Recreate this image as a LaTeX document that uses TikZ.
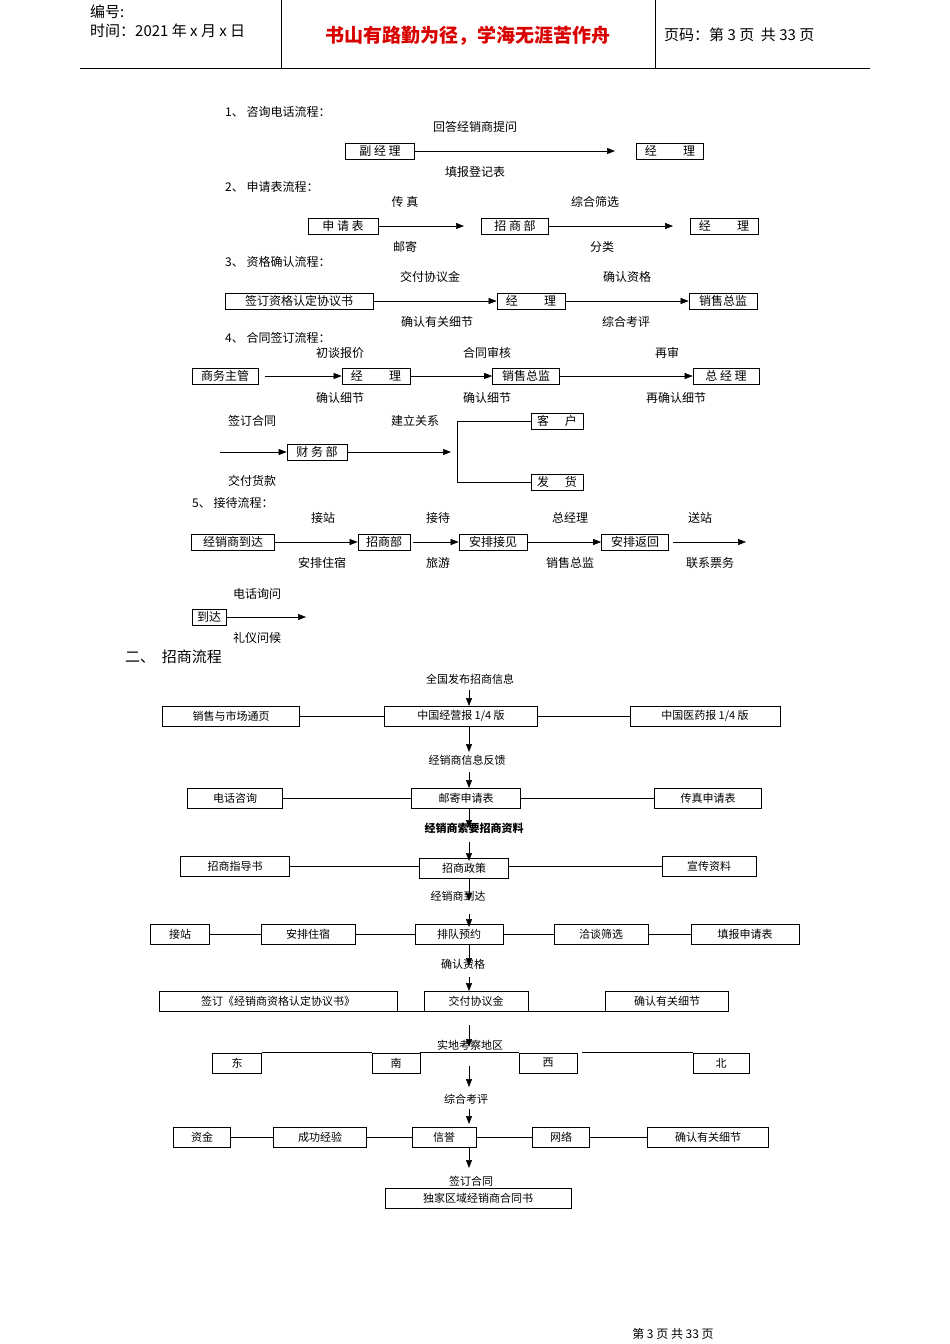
\documentclass[tikz,border=0pt]{standalone}
\usepackage{fontspec}
\setmainfont{Noto Sans CJK SC}
\usetikzlibrary{arrows.meta}
\begin{document}
\begin{tikzpicture}[x=1pt,y=-1pt,
  lbl/.style={font=\fontsize{12}{13}\selectfont, inner sep=0pt},
  sl/.style={font=\fontsize{11}{12}\selectfont, inner sep=0pt},
  ttl/.style={font=\fontsize{12}{13}\selectfont, inner sep=0pt, anchor=west},
  bx/.style={draw, line width=0.7pt, font=\fontsize{12}{13}\selectfont, inner sep=1pt, minimum height=16},
  bb/.style={draw, line width=0.7pt, font=\fontsize{11}{12}\selectfont, inner sep=1pt, minimum height=20},
  ar/.style={line width=0.6pt, -{Triangle[length=8pt,width=6pt]}},
  ln/.style={line width=0.6pt}]
\useasboundingbox (0,0) rectangle (950,1344);
% header
\draw[line width=0.6pt] (80,68) -- (870,68);
\draw[line width=0.6pt] (281,0) -- (281,68) (655,0) -- (655,68);
\node[anchor=west,font=\fontsize{15}{16}\selectfont,inner sep=0] (h1) at (90,12) {编号:};
\node[anchor=west,font=\fontsize{15}{16}\selectfont,inner sep=0] (h2) at (90,31) {时间：2021 年 x 月 x 日};
\node[font=\bfseries\fontsize{19}{20}\selectfont,text=red!85!black,inner sep=0] (h3) at (468,36) {书山有路勤为径，学海无涯苦作舟};
\node[anchor=west,font=\fontsize{15}{16}\selectfont,inner sep=0] (h4) at (664,35) {页码：第 3 页\ \ 共 33 页};
\node[font=\fontsize{12}{13}\selectfont,inner sep=0] (ft) at (673,1334) {第 3 页 共 33 页};

% 1
\node[ttl] (t1) at (225,112) {1、 咨询电话流程：};
\node[lbl] (l11) at (475,127) {回答经销商提问};
\node[bx,minimum width=69] (a1) at (380,151) {副 经 理};
\node[bx,minimum width=67] (a2) at (670,151) {经\hspace{2.2em}理};
\coordinate (a1e) at (615,151);
\draw[ar] (a1) -- (a1e);
\node[lbl] (l12) at (475,172) {填报登记表};
% 2
\node[ttl] (t2) at (225,187) {2、 申请表流程：};
\node[lbl] (l21) at (405,202) {传 真};
\node[lbl] (l22) at (595,202) {综合筛选};
\node[bx,minimum width=70] (b1) at (343,226) {申 请 表};
\node[bx,minimum width=67] (b2) at (515,226) {招 商 部};
\node[bx,minimum width=68] (b3) at (724,226) {经\hspace{2.2em}理};
\coordinate (b1e) at (464,226); \coordinate (b2e) at (673,226);
\draw[ar] (b1) -- (b1e); \draw[ar] (b2) -- (b2e);
\node[lbl] (l23) at (405,247) {邮寄};
\node[lbl] (l24) at (602,247) {分类};
% 3
\node[ttl] (t3) at (225,262) {3、 资格确认流程：};
\node[lbl] (l31) at (430,277) {交付协议金};
\node[lbl] (l32) at (627,277) {确认资格};
\node[bx,minimum width=148] (c1) at (299,301) {签订资格认定协议书};
\node[bx,minimum width=68] (c2) at (531,301) {经\hspace{2.2em}理};
\node[bx,minimum width=68] (c3) at (723,301) {销售总监};
\draw[ar] (c1) -- (c2); \draw[ar] (c2) -- (c3);
\node[lbl] (l33) at (437,322) {确认有关细节};
\node[lbl] (l34) at (626,322) {综合考评};
% 4
\node[ttl] (t4) at (225,338) {4、 合同签订流程：};
\node[lbl] (l41) at (340,353) {初谈报价};
\node[lbl] (l42) at (487,353) {合同审核};
\node[lbl] (l43) at (667,353) {再审};
\node[bx,minimum width=66] (d1) at (225,376) {商务主管};
\node[bx,minimum width=68] (d2) at (376,376) {经\hspace{2.2em}理};
\node[bx,minimum width=67] (d3) at (526,376) {销售总监};
\node[bx,minimum width=66] (d4) at (726,376) {总 经 理};
\draw[ar] (d1.east) ++(7,0) -- (d2); \draw[ar] (d2) -- (d3); \draw[ar] (d3) -- (d4);
\node[lbl] (l44) at (340,398) {确认细节};
\node[lbl] (l45) at (487,398) {确认细节};
\node[lbl] (l46) at (676,398) {再确认细节};
\node[lbl] (l47) at (252,421) {签订合同};
\node[lbl] (l48) at (415,421) {建立关系};
\coordinate (e0) at (220,452);
\node[bx,minimum width=60] (e1) at (317,452) {财 务 部};
\coordinate (e2) at (451,452);
\draw[ar] (e0) -- (e1); \draw[ar] (e1) -- (e2);
\node[bx,minimum width=52] (e3) at (557,421) {客\hspace{1.3em}户};
\node[bx,minimum width=52] (e4) at (557,482) {发\hspace{1.3em}货};
\draw[ln] (e3.west) -- (457,421) -- (457,482) -- (e4.west);
\node[lbl] (l49) at (252,481) {交付货款};
% 5
\node[ttl] (t5) at (192,503) {5、 接待流程：};
\node[lbl] (l51) at (323,518) {接站};
\node[lbl] (l52) at (438,518) {接待};
\node[lbl] (l53) at (570,518) {总经理};
\node[lbl] (l54) at (700,518) {送站};
\node[bx,minimum width=83] (f1) at (233,542) {经销商到达};
\node[bx,minimum width=52] (f2) at (384,542) {招商部};
\node[bx,minimum width=68] (f3) at (493,542) {安排接见};
\node[bx,minimum width=67] (f4) at (635,542) {安排返回};
\coordinate (f5) at (746,542);
\draw[ar] (f1) -- (f2); \draw[ar] (f2.east) ++(3,0) -- (f3); \draw[ar] (f3) -- (f4); \draw[ar] (f4.east) ++(4,0) -- (f5);
\node[lbl] (l55) at (322,563) {安排住宿};
\node[lbl] (l56) at (438,563) {旅游};
\node[lbl] (l57) at (570,563) {销售总监};
\node[lbl] (l58) at (710,563) {联系票务};
\node[lbl] (l59) at (257,594) {电话询问};
\node[bx,minimum width=34] (g1) at (209,617) {到达};
\coordinate (g2) at (306,617);
\draw[ar] (g1) -- (g2);
\node[lbl] (l5a) at (257,638) {礼仪问候};

% 二
\node[anchor=west,font=\fontsize{15}{16}\selectfont,inner sep=0] (t6) at (125,657) {二、\ \ 招商流程};
\node[sl] (m0) at (470,679) {全国发布招商信息};
\node[bb,minimum width=137] (m1) at (231,716) {销售与市场通页};
\node[bb,minimum width=153] (m2) at (461,716) {中国经营报 1/4 版};
\node[bb,minimum width=150] (m3) at (705,716) {中国医药报 1/4 版};
\draw[ln] (m1) -- (m2) -- (m3);
\draw[ar] (469,690) -- (469,706);
\node[sl] (m4) at (467,760) {经销商信息反馈};
\draw[ar] (469,726) -- (469,752);
\draw[ar] (469,772) -- (469,788);
\node[bb,minimum width=95] (n1) at (235,798) {电话咨询};
\node[bb,minimum width=109] (n2) at (466,798) {邮寄申请表};
\node[bb,minimum width=107] (n3) at (708,798) {传真申请表};
\draw[ln] (n1) -- (n2) -- (n3);
\draw[ar] (469,808) -- (469,828);
\node[sl,font=\bfseries\fontsize{11}{12}\selectfont] (n4) at (474,828) {经销商索要招商资料};
\draw[ar] (469,842) -- (469,861);
\node[bb,minimum width=109] (o1) at (235,866) {招商指导书};
\node[bb,minimum width=89] (o2) at (464,868) {招商政策};
\node[bb,minimum width=94] (o3) at (709,866) {宣传资料};
\draw[ln] (o1.east) -- (o2.west |- o1.east) (o2.east |- o3.west) -- (o3.west);
\draw[ar] (469,878) -- (469,901);
\node[sl] (o4) at (458,896) {经销商到达};
\draw[ar] (469,914) -- (469,927);
\node[bb,minimum width=59] (p1) at (180,934) {接站};
\node[bb,minimum width=94] (p2) at (308,934) {安排住宿};
\node[bb,minimum width=88] (p3) at (459,934) {排队预约};
\node[bb,minimum width=94] (p4) at (601,934) {洽谈筛选};
\node[bb,minimum width=108] (p5) at (745,934) {填报申请表};
\draw[ln] (p1) -- (p2) -- (p3) -- (p4) -- (p5);
\draw[ar] (469,944) -- (469,966);
\node[sl] (p6) at (463,964) {确认资格};
\draw[ar] (469,977) -- (469,991);
\node[bb,minimum width=238] (q1) at (278,1001) {签订《经销商资格认定协议书》};
\node[bb,minimum width=104] (q2) at (476,1001) {交付协议金};
\node[bb,minimum width=123] (q3) at (667,1001) {确认有关细节};
\draw[ln] (q1.south east |- 0,1011) -- (q2.south west |- 0,1011) (q2.south east |- 0,1011) -- (q3.south west |- 0,1011);
\draw[ar] (469,1025) -- (469,1047);
\node[sl] (q4) at (470,1045) {实地考察地区};
\node[bb,minimum width=49] (r1) at (237,1063) {东};
\node[bb,minimum width=48] (r2) at (396,1063) {南};
\node[bb,minimum width=58] (r3) at (548,1063) {西};
\node[bb,minimum width=56] (r4) at (721,1063) {北};
\draw[ln] (r1.north east) -- (r2.north west) (r2.north east) -- (r3.north west);
\draw[ln] ([xshift=5]r3.north east) -- (r4.north west);
\draw[ar] (469,1066) -- (469,1087);
\node[sl] (r5) at (466,1099) {综合考评};
\draw[ar] (469,1109) -- (469,1124);
\node[bb,minimum width=57] (s1) at (202,1137) {资金};
\node[bb,minimum width=93] (s2) at (320,1137) {成功经验};
\node[bb,minimum width=64] (s3) at (444,1137) {信誉};
\node[bb,minimum width=57] (s4) at (561,1137) {网络};
\node[bb,minimum width=121] (s5) at (708,1137) {确认有关细节};
\draw[ln] (s1) -- (s2) -- (s3) -- (s4) -- (s5);
\draw[ar] (469,1147) -- (469,1168);
\node[sl] (s6) at (471,1181) {签订合同};
\node[bb,minimum width=186] (s7) at (478,1198) {独家区域经销商合同书};
\end{tikzpicture}
\end{document}
